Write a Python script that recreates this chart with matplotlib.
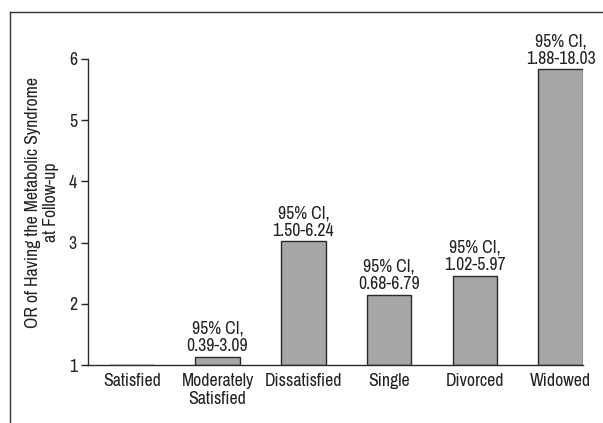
import matplotlib
matplotlib.use("Agg")
import matplotlib.pyplot as plt
from matplotlib.lines import Line2D

categories = ["Satisfied", "Moderately\nSatisfied", "Dissatisfied", "Single", "Divorced", "Widowed"]
odds_ratios = [1.0, 1.13, 3.02, 2.15, 2.46, 5.83]
ci_labels = [None, "95% CI,\n0.39-3.09", "95% CI,\n1.50-6.24", "95% CI,\n0.68-6.79",
             "95% CI,\n1.02-5.97", "95% CI,\n1.88-18.03"]
yticks = [1, 2, 3, 4, 5, 6]

plt.rcParams['font.family'] = ['Archivo Narrow', 'Roboto Condensed', 'DejaVu Sans']
fs = 12.8

fig = plt.figure(figsize=(6.03, 4.23), dpi=100)
ax = fig.add_axes([88/603, 1-365/423, (583-88)/603, (365-59)/423])

x = list(range(len(categories)))
heights = [v - 1 for v in odds_ratios]
ax.bar(x, heights, bottom=1, width=0.52, color="#a7a7a9", edgecolor="#2a2a2a", linewidth=1.0)

for xi, v, lab in zip(x, odds_ratios, ci_labels):
    if lab:
        ax.annotate(lab, (xi, v), xytext=(0, 2), textcoords="offset points",
                    ha="center", va="bottom", fontsize=fs, linespacing=1.1,
                    color="#222222", annotation_clip=False)

ax.set_xlim(-0.51, 5.26)
ax.set_ylim(1, 6)
ax.set_yticks(yticks)
ax.set_xticks(x)
ax.set_xticklabels(categories, fontsize=fs, color="#222222", linespacing=1.1)
ax.tick_params(axis="x", length=0, pad=6)
ax.tick_params(axis="y", length=5, width=1, labelsize=fs, colors="#222222", pad=3)
for s in ["top", "right"]:
    ax.spines[s].set_visible(False)
for s in ["left", "bottom"]:
    ax.spines[s].set_color("#2a2a2a")
    ax.spines[s].set_linewidth(1.0)

fig.text(42/603, 1-202/423, "OR of Having the Metabolic Syndrome\nat Follow-up",
         rotation=90, ha="center", va="center", fontsize=fs, color="#222222", linespacing=1.1)

# outer frame (top and left edges visible)
fig.add_artist(Line2D([10/603, 1.0], [1-12/423, 1-12/423], transform=fig.transFigure,
                      color="#333333", linewidth=1.0))
fig.add_artist(Line2D([10/603, 10/603], [0, 1-12/423], transform=fig.transFigure,
                      color="#333333", linewidth=1.0))

fig.savefig("out.png", dpi=100)
